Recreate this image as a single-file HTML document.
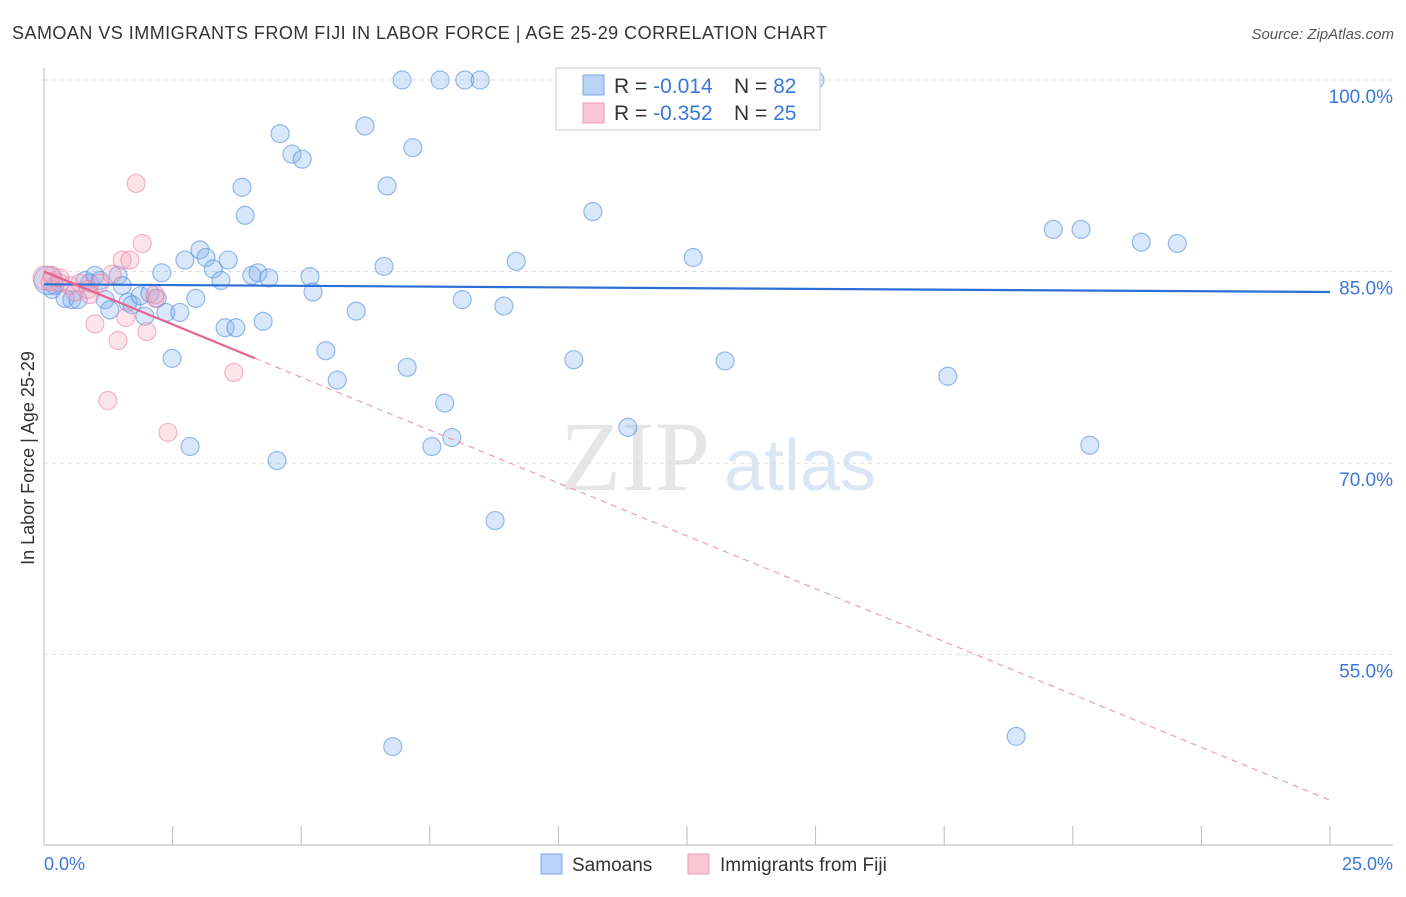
<!DOCTYPE html>
<html><head><meta charset="utf-8"><style>
body{margin:0;background:#fff;font-family:"Liberation Sans",sans-serif}
</style></head><body>
<svg width="1406" height="892" xmlns="http://www.w3.org/2000/svg" id="chart" font-family="Liberation Sans, sans-serif">
<text x="12" y="39" font-size="18" fill="#333" textLength="815" lengthAdjust="spacing">SAMOAN VS IMMIGRANTS FROM FIJI IN LABOR FORCE | AGE 25-29 CORRELATION CHART</text>
<text x="1394" y="39" font-size="15" fill="#555" font-style="italic" text-anchor="end">Source: ZipAtlas.com</text>
<text x="635" y="490" font-size="100" fill="#e6e6e6" font-family="Liberation Serif, serif" text-anchor="middle">ZIP</text>
<text x="800" y="490" font-size="72" fill="#dbe6f5" text-anchor="middle">atlas</text>
<g id="grid"></g>
<line x1="44" y1="68" x2="44" y2="845" stroke="#bbb"/>
<line x1="44" y1="845" x2="1393" y2="845" stroke="#bbb"/>
<text x="0" y="0" transform="translate(34,458) rotate(-90)" font-size="18" fill="#333" text-anchor="middle">In Labor Force | Age 25-29</text>
<text x="44" y="870" font-size="18" fill="#3a78d8">0.0%</text>
<text x="1393" y="870" font-size="18" fill="#3a78d8" text-anchor="end">25.0%</text>
<g id="points"></g>
<g id="trends"></g>
<g>
<rect x="556" y="68" width="264" height="62" fill="#fff" stroke="#ccc"/>
<rect x="583" y="75" width="21" height="20" fill="#b9d2f5" stroke="#7aa7e8"/>
<rect x="583" y="103" width="21" height="20" fill="#f9c6d5" stroke="#ee9ab5"/>
<text x="614" y="93" font-size="21" fill="#333">R = <tspan fill="#3a78d8">-0.014</tspan></text>
<text x="734" y="93" font-size="21" fill="#333">N = <tspan fill="#3a78d8">82</tspan></text>
<text x="614" y="120" font-size="21" fill="#333">R = <tspan fill="#3a78d8">-0.352</tspan></text>
<text x="734" y="120" font-size="21" fill="#333">N = <tspan fill="#3a78d8">25</tspan></text>
</g>
<g>
<rect x="541" y="854" width="21" height="20" fill="#b9d2f5" stroke="#7aa7e8"/>
<text x="572" y="871" font-size="19" fill="#333">Samoans</text>
<rect x="688" y="854" width="21" height="20" fill="#f9c6d5" stroke="#ee9ab5"/>
<text x="720" y="871" font-size="19" fill="#333">Immigrants from Fiji</text>
</g>
</svg>
<script>
const yTicks=[100,85,70,55];
const yTickLabels=["100.0%","85.0%","70.0%","55.0%"];
const xTicks=[2.5,5,7.5,10,12.5,15,17.5,20,22.5,25];
const samoanX=[0.21,0.16,0.41,0.54,0.66,0.80,0.89,0.99,1.09,1.19,1.28,1.44,1.52,1.63,1.71,1.87,1.96,2.06,2.20,2.29,2.37,2.49,2.64,2.74,2.84,2.95,3.03,3.15,3.29,3.44,3.52,3.58,3.73,3.85,3.91,4.04,4.16,4.26,4.37,4.53,4.59,4.82,5.02,5.17,5.23,5.48,5.70,6.07,6.24,6.61,6.67,6.78,6.96,7.06,7.17,7.54,7.70,7.79,7.93,8.13,8.18,8.48,8.77,8.94,9.18,10.30,10.67,11.12,11.35,11.45,12.62,13.24,14.04,14.99,17.57,18.90,19.62,20.16,20.33,21.33,22.03,0.08];
const samoanY=[83.9,83.6,82.9,82.8,82.8,84.3,84.1,84.7,84.3,82.8,82.0,84.7,83.9,82.6,82.4,83.1,81.5,83.3,82.9,84.9,81.8,78.2,81.8,85.9,71.3,82.9,86.7,86.1,85.2,84.3,80.6,85.9,80.6,91.6,89.4,84.7,84.9,81.1,84.5,70.2,95.8,94.2,93.8,84.6,83.4,78.8,76.5,81.9,96.4,85.4,91.7,47.8,100,77.5,94.7,71.3,100,74.7,72.0,82.8,100,100,65.5,82.3,85.8,78.1,89.7,100,72.8,100,86.1,78.0,100,100,76.8,48.6,88.3,88.3,71.4,87.3,87.2,84.3];
const fijiX=[0.02,0.12,0.31,0.51,0.70,0.86,0.99,1.09,1.24,1.32,1.44,1.52,1.59,1.67,1.79,1.91,2.00,2.16,2.41,3.69,0.31,0.60,0.16,2.16,0.89];
const fijiY=[84.5,84.2,84.1,83.9,84.1,83.6,80.9,84.1,74.9,84.8,79.6,85.9,81.4,85.9,91.9,87.2,80.3,82.9,72.4,77.1,84.5,83.4,84.7,83.2,83.2];
const samoanTrend=[84.0,83.4];
const fijiTrend=[85.0,43.6];
const fijiSolidEnd=4.1;
const NS="http://www.w3.org/2000/svg";
const sx=v=>44+v*51.44;
const sy=v=>80+(100-v)*12.77;
function mk(t,a,p){const e=document.createElementNS(NS,t);for(const k in a)e.setAttribute(k,a[k]);p.appendChild(e);return e;}
const grid=document.getElementById('grid');
yTicks.forEach((v,i)=>{
  const l=mk('line',{x1:44,x2:1393,y1:sy(v),y2:sy(v),stroke:'#ddd','stroke-dasharray':'4,4'},grid);
  
  
  const t=mk('text',{x:1393,y:sy(v)+23,'font-size':19,fill:'#3a78d8','text-anchor':'end'},grid);
  t.textContent=yTickLabels[i];
  
  
});
xTicks.forEach(v=>{
  const l=mk('line',{x1:sx(v),x2:sx(v),y1:826,y2:845,stroke:'#bbb'},grid);
  
  
});
const pts=document.getElementById('points');
samoanX.forEach((x,i)=>{
  const big=(i===samoanX.length-1);
  const c=mk('circle',{cx:sx(x),cy:sy(samoanY[i]),r:big?14:9,fill:'rgba(130,175,238,0.3)',stroke:'rgba(70,135,220,0.55)','stroke-width':1.2},pts);
  
  
});
fijiX.forEach((x,i)=>{
  const c=mk('circle',{cx:sx(x),cy:sy(fijiY[i]),r:i===0?12:9,fill:'rgba(245,165,190,0.3)',stroke:'rgba(235,125,160,0.55)','stroke-width':1.2},pts);
  
  
});
const tr=document.getElementById('trends');
const sl=mk('line',{x1:sx(0),y1:sy(samoanTrend[0]),x2:sx(25),y2:sy(samoanTrend[1]),stroke:'#2a6fd6','stroke-width':2.2},tr);


const fy=x=>fijiTrend[0]+(fijiTrend[1]-fijiTrend[0])*x/25;
const fl=mk('line',{x1:sx(0),y1:sy(fy(0)),x2:sx(fijiSolidEnd),y2:sy(fy(fijiSolidEnd)),stroke:'#e8628e','stroke-width':2.2},tr);


const fd=mk('line',{x1:sx(fijiSolidEnd),y1:sy(fy(fijiSolidEnd)),x2:sx(25),y2:sy(fy(25)),stroke:'#ee8aaa','stroke-width':1,'stroke-dasharray':'6,5'},tr);


</script>
</body></html>
